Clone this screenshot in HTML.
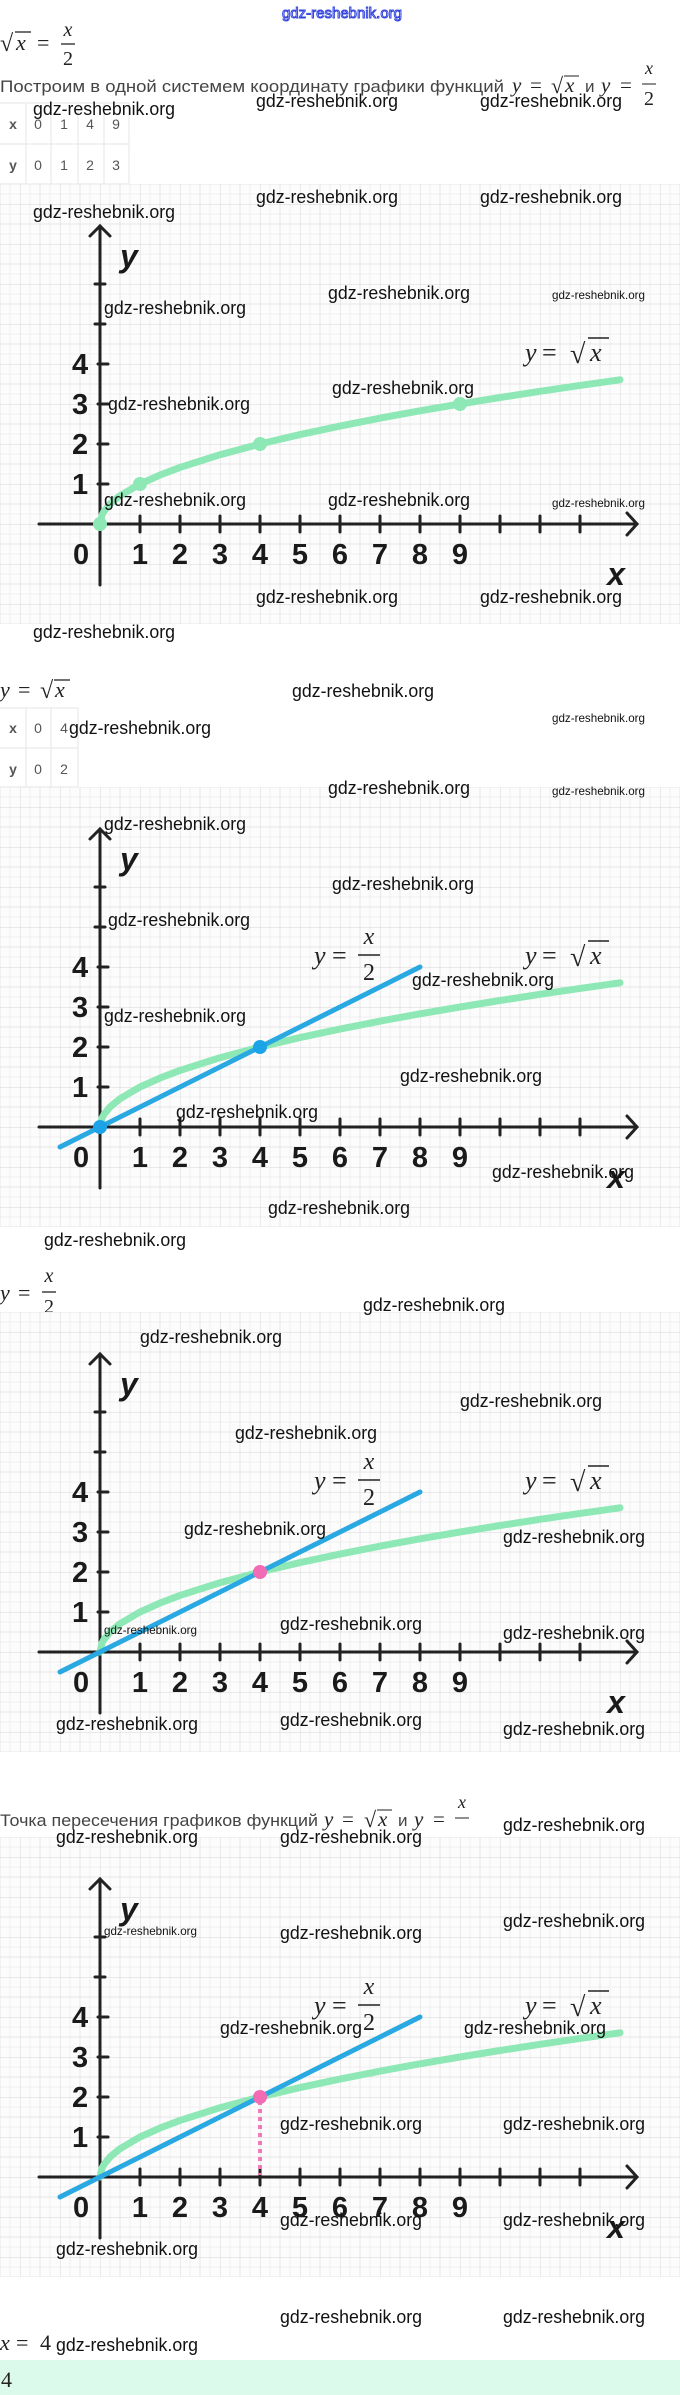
<!DOCTYPE html>
<html><head><meta charset="utf-8"><style>
html,body{margin:0;padding:0;background:#fff;}
svg{display:block}
.wm{font-family:"Liberation Sans",sans-serif;font-size:18px;fill:#111;}
.wms{font-family:"Liberation Sans",sans-serif;font-size:12px;fill:#111;}
.m{font-family:"Liberation Serif",serif;font-style:italic;fill:#222;}
.mr{font-family:"Liberation Serif",serif;fill:#222;}
.num{font-family:"Liberation Sans",sans-serif;font-weight:bold;font-size:29px;fill:#1a1a1a;}
.tx{font-family:"Liberation Sans","Noto Sans CJK SC",sans-serif;font-size:17px;fill:#444;}
.tb{font-family:"Liberation Sans",sans-serif;font-size:14px;fill:#555;}
</style></head><body>
<svg width="680" height="2395" viewBox="0 0 680 2395" xmlns="http://www.w3.org/2000/svg">
<defs>
<pattern id="grid" width="40" height="40" patternUnits="userSpaceOnUse">
<rect width="40" height="40" fill="#fcfcfc"/>
<path d="M10 0V40M30 0V40M0 10H40M0 30H40" stroke="#f0f0f0" stroke-width="1"/>
<path d="M20 0V40M0 20H40" stroke="#e6e6e6" stroke-width="1"/>
<path d="M0 0V40M0 0H40" stroke="#dedede" stroke-width="1.2"/>
</pattern>
<g id="axes">
<rect x="-100" y="-340" width="680" height="440" fill="url(#grid)"/>
<g stroke="#222" stroke-width="3" fill="none" stroke-linecap="round">
<line x1="-61" y1="0" x2="537" y2="0"/>
<polyline points="527,-11 537,0 527,11"/>
<line x1="0" y1="61" x2="0" y2="-298"/>
<polyline points="-10,-288 0,-298 10,-288"/>
<path d="M40 -8V8M80 -8V8M120 -8V8M160 -8V8M200 -8V8M240 -8V8M280 -8V8M320 -8V8M360 -8V8M400 -8V8M440 -8V8M480 -8V8M-2 -40H8M-2 -80H8M-2 -120H8M-2 -160H8M-5 -200H5M-5 -240H5"/>
</g>
<text class="num" x="-19" y="40" text-anchor="middle">0</text>
<text class="num" x="40" y="40" text-anchor="middle">1</text>
<text class="num" x="80" y="40" text-anchor="middle">2</text>
<text class="num" x="120" y="40" text-anchor="middle">3</text>
<text class="num" x="160" y="40" text-anchor="middle">4</text>
<text class="num" x="200" y="40" text-anchor="middle">5</text>
<text class="num" x="240" y="40" text-anchor="middle">6</text>
<text class="num" x="280" y="40" text-anchor="middle">7</text>
<text class="num" x="320" y="40" text-anchor="middle">8</text>
<text class="num" x="360" y="40" text-anchor="middle">9</text>
<text class="num" x="-20" y="-30" text-anchor="middle">1</text>
<text class="num" x="-20" y="-70" text-anchor="middle">2</text>
<text class="num" x="-20" y="-110" text-anchor="middle">3</text>
<text class="num" x="-20" y="-150" text-anchor="middle">4</text>
<text x="20" y="-257" font-family="Liberation Sans,sans-serif" font-size="32" font-weight="bold" font-style="italic" fill="#1a1a1a">y</text>
<text x="516" y="61" font-family="Liberation Sans,sans-serif" font-size="32" font-weight="bold" font-style="italic" fill="#1a1a1a" text-anchor="middle">x</text>
<text class="m" x="425" y="-163" font-size="26">y</text>
<text class="mr" x="442" y="-163" font-size="26">=</text>
<text class="mr" x="470" y="-161" font-size="28">√</text>
<text class="m" x="490" y="-163" font-size="26">x</text>
<line x1="488" y1="-186" x2="509" y2="-186" stroke="#222" stroke-width="1.5"/>
</g>
<path id="sq" d="M0 0L2 -8.94L4 -12.65L10 -20L20 -28.28L40 -40L60 -48.99L80 -56.57L120 -69.28L160 -80L200 -89.44L240 -97.98L280 -105.83L320 -113.14L360 -120L400 -126.49L440 -132.66L480 -138.56L520 -144.22" fill="none" stroke="#8ee8b5" stroke-width="7" stroke-linecap="round" stroke-linejoin="round"/>
<g id="lin">
<line x1="-40" y1="20" x2="320" y2="-160" stroke="#2aa8e2" stroke-width="5" stroke-linecap="round"/>
<text class="m" x="214" y="-163" font-size="26">y</text>
<text class="mr" x="232" y="-163" font-size="26">=</text>
<text class="m" x="269" y="-183" font-size="24" text-anchor="middle">x</text>
<line x1="258" y1="-172" x2="280" y2="-172" stroke="#222" stroke-width="1.5"/>
<text class="mr" x="269" y="-147" font-size="24" text-anchor="middle">2</text>
</g>
</defs>

<!-- top -->
<text x="342" y="18" text-anchor="middle" font-family="Liberation Sans,sans-serif" font-size="15" fill="#fff" stroke="#3344dd" stroke-width="1">gdz-reshebnik.org</text>
<text class="mr" x="0" y="51" font-size="24">√</text>
<text class="m" x="16" y="50" font-size="22">x</text>
<line x1="15" y1="32" x2="31" y2="32" stroke="#222" stroke-width="1.3"/>
<text class="mr" x="37" y="50" font-size="22">=</text>
<text class="m" x="68" y="36" font-size="20" text-anchor="middle">x</text>
<line x1="61" y1="44" x2="75" y2="44" stroke="#222" stroke-width="1.3"/>
<text class="mr" x="68" y="65" font-size="20" text-anchor="middle">2</text>

<text class="tx" x="0" y="92" textLength="504" lengthAdjust="spacingAndGlyphs">Построим в одной системем координату графики функций</text>
<text class="m" x="512" y="92" font-size="21">y</text>
<text class="mr" x="530" y="92" font-size="21">=</text>
<text class="mr" x="551" y="93" font-size="22">√</text>
<text class="m" x="565" y="92" font-size="21">x</text>
<line x1="564" y1="76" x2="579" y2="76" stroke="#444" stroke-width="1.2"/>
<text class="tx" x="585" y="92">и</text>
<text class="m" x="601" y="92" font-size="21">y</text>
<text class="mr" x="620" y="92" font-size="21">=</text>
<text class="m" x="649" y="74" font-size="18" text-anchor="middle">x</text>
<line x1="642" y1="84" x2="656" y2="84" stroke="#444" stroke-width="1.2"/>
<text class="mr" x="649" y="105" font-size="20" text-anchor="middle">2</text>

<!-- table1 -->
<g stroke="#e6e6e6" stroke-width="1" fill="none">
<path d="M0 103H129M0 144H129M0 184H129M26 103V184M51 103V184M78 103V184M104 103V184M129 103V184"/>
</g>
<text class="tb" x="13" y="129" text-anchor="middle" font-weight="bold" fill="#333">x</text>
<text class="tb" x="38" y="129" text-anchor="middle">0</text>
<text class="tb" x="64" y="129" text-anchor="middle">1</text>
<text class="tb" x="90" y="129" text-anchor="middle">4</text>
<text class="tb" x="116" y="129" text-anchor="middle">9</text>
<text class="tb" x="13" y="170" text-anchor="middle" font-weight="bold" fill="#333">y</text>
<text class="tb" x="38" y="170" text-anchor="middle">0</text>
<text class="tb" x="64" y="170" text-anchor="middle">1</text>
<text class="tb" x="90" y="170" text-anchor="middle">2</text>
<text class="tb" x="116" y="170" text-anchor="middle">3</text>

<!-- chart1 -->
<g transform="translate(100,524)">
<use href="#axes"/>
<use href="#sq"/>
<g fill="#8ee8b5"><circle cx="0" cy="0" r="7"/><circle cx="40" cy="-40" r="7"/><circle cx="160" cy="-80" r="7"/><circle cx="360" cy="-120" r="7"/></g>
</g>

<!-- section 2 -->
<text class="m" x="0" y="697" font-size="22">y</text>
<text class="mr" x="18" y="697" font-size="22">=</text>
<text class="mr" x="40" y="698" font-size="24">√</text>
<text class="m" x="55" y="697" font-size="22">x</text>
<line x1="54" y1="680" x2="70" y2="680" stroke="#222" stroke-width="1.3"/>
<g stroke="#e6e6e6" stroke-width="1" fill="none">
<path d="M0 708H78M0 748H78M0 787H78M26 708V787M51 708V787M78 708V787"/>
</g>
<text class="tb" x="13" y="733" text-anchor="middle" font-weight="bold" fill="#333">x</text>
<text class="tb" x="38" y="733" text-anchor="middle">0</text>
<text class="tb" x="64" y="733" text-anchor="middle">4</text>
<text class="tb" x="13" y="774" text-anchor="middle" font-weight="bold" fill="#333">y</text>
<text class="tb" x="38" y="774" text-anchor="middle">0</text>
<text class="tb" x="64" y="774" text-anchor="middle">2</text>

<g transform="translate(100,1127)">
<use href="#axes"/>
<use href="#sq"/>
<use href="#lin"/>
<g fill="#1ba3e8"><circle cx="0" cy="0" r="7"/><circle cx="160" cy="-80" r="7"/></g>
</g>

<!-- section 3 -->
<text class="m" x="0" y="1300" font-size="22">y</text>
<text class="mr" x="18" y="1300" font-size="22">=</text>
<text class="m" x="49" y="1282" font-size="20" text-anchor="middle">x</text>
<line x1="42" y1="1292" x2="56" y2="1292" stroke="#222" stroke-width="1.3"/>
<text class="mr" x="49" y="1313" font-size="20" text-anchor="middle">2</text>

<g transform="translate(100,1652)">
<use href="#axes"/>
<use href="#sq"/>
<use href="#lin"/>
<circle cx="160" cy="-80" r="7" fill="#f26bb5"/>
</g>

<!-- section 4 -->
<text class="tx" x="0" y="1826" textLength="318" lengthAdjust="spacingAndGlyphs">Точка пересечения графиков функций</text>
<text class="m" x="324" y="1826" font-size="21">y</text>
<text class="mr" x="342" y="1826" font-size="21">=</text>
<text class="mr" x="364" y="1827" font-size="22">√</text>
<text class="m" x="378" y="1826" font-size="21">x</text>
<line x1="377" y1="1810" x2="392" y2="1810" stroke="#444" stroke-width="1.2"/>
<text class="tx" x="398" y="1826">и</text>
<text class="m" x="414" y="1826" font-size="21">y</text>
<text class="mr" x="433" y="1826" font-size="21">=</text>
<text class="m" x="462" y="1808" font-size="18" text-anchor="middle">x</text>
<line x1="455" y1="1818" x2="469" y2="1818" stroke="#444" stroke-width="1.2"/>

<g transform="translate(100,2177)">
<use href="#axes"/>
<use href="#sq"/>
<use href="#lin"/>
<line x1="160" y1="-76" x2="160" y2="-2" stroke="#f07ab8" stroke-width="4" stroke-dasharray="4 4"/>
<circle cx="160" cy="-80" r="7" fill="#f26bb5"/>
</g>

<text class="m" x="0" y="2350" font-size="22">x</text>
<text class="mr" x="16" y="2350" font-size="22">=</text>
<text class="mr" x="40" y="2350" font-size="22">4</text>
<rect x="0" y="2360" width="680" height="35" fill="#dcfaec"/>
<text class="mr" x="1" y="2387" font-size="22">4</text>

<!-- watermarks -->
<g class="wm" textLength="142">
<text class="wm" x="33" y="115" textLength="142" lengthAdjust="spacingAndGlyphs">gdz-reshebnik.org</text>
<text class="wm" x="256" y="107" textLength="142" lengthAdjust="spacingAndGlyphs">gdz-reshebnik.org</text>
<text class="wm" x="480" y="107" textLength="142" lengthAdjust="spacingAndGlyphs">gdz-reshebnik.org</text>
<text class="wm" x="256" y="203" textLength="142" lengthAdjust="spacingAndGlyphs">gdz-reshebnik.org</text>
<text class="wm" x="480" y="203" textLength="142" lengthAdjust="spacingAndGlyphs">gdz-reshebnik.org</text>
<text class="wm" x="33" y="218" textLength="142" lengthAdjust="spacingAndGlyphs">gdz-reshebnik.org</text>
<text class="wm" x="328" y="299" textLength="142" lengthAdjust="spacingAndGlyphs">gdz-reshebnik.org</text>
<text class="wms" x="552" y="299" textLength="93" lengthAdjust="spacingAndGlyphs">gdz-reshebnik.org</text>
<text class="wm" x="104" y="314" textLength="142" lengthAdjust="spacingAndGlyphs">gdz-reshebnik.org</text>
<text class="wm" x="332" y="394" textLength="142" lengthAdjust="spacingAndGlyphs">gdz-reshebnik.org</text>
<text class="wm" x="108" y="410" textLength="142" lengthAdjust="spacingAndGlyphs">gdz-reshebnik.org</text>
<text class="wm" x="104" y="506" textLength="142" lengthAdjust="spacingAndGlyphs">gdz-reshebnik.org</text>
<text class="wm" x="328" y="506" textLength="142" lengthAdjust="spacingAndGlyphs">gdz-reshebnik.org</text>
<text class="wms" x="552" y="507" textLength="93" lengthAdjust="spacingAndGlyphs">gdz-reshebnik.org</text>
<text class="wm" x="256" y="603" textLength="142" lengthAdjust="spacingAndGlyphs">gdz-reshebnik.org</text>
<text class="wm" x="480" y="603" textLength="142" lengthAdjust="spacingAndGlyphs">gdz-reshebnik.org</text>
<text class="wm" x="33" y="638" textLength="142" lengthAdjust="spacingAndGlyphs">gdz-reshebnik.org</text>

<text class="wm" x="292" y="697" textLength="142" lengthAdjust="spacingAndGlyphs">gdz-reshebnik.org</text>
<text class="wms" x="552" y="722" textLength="93" lengthAdjust="spacingAndGlyphs">gdz-reshebnik.org</text>
<text class="wm" x="69" y="734" textLength="142" lengthAdjust="spacingAndGlyphs">gdz-reshebnik.org</text>
<text class="wm" x="328" y="794" textLength="142" lengthAdjust="spacingAndGlyphs">gdz-reshebnik.org</text>
<text class="wms" x="552" y="795" textLength="93" lengthAdjust="spacingAndGlyphs">gdz-reshebnik.org</text>
<text class="wm" x="104" y="830" textLength="142" lengthAdjust="spacingAndGlyphs">gdz-reshebnik.org</text>
<text class="wm" x="332" y="890" textLength="142" lengthAdjust="spacingAndGlyphs">gdz-reshebnik.org</text>
<text class="wm" x="108" y="926" textLength="142" lengthAdjust="spacingAndGlyphs">gdz-reshebnik.org</text>
<text class="wm" x="412" y="986" textLength="142" lengthAdjust="spacingAndGlyphs">gdz-reshebnik.org</text>
<text class="wm" x="104" y="1022" textLength="142" lengthAdjust="spacingAndGlyphs">gdz-reshebnik.org</text>
<text class="wm" x="400" y="1082" textLength="142" lengthAdjust="spacingAndGlyphs">gdz-reshebnik.org</text>
<text class="wm" x="176" y="1118" textLength="142" lengthAdjust="spacingAndGlyphs">gdz-reshebnik.org</text>
<text class="wm" x="492" y="1178" textLength="142" lengthAdjust="spacingAndGlyphs">gdz-reshebnik.org</text>
<text class="wm" x="268" y="1214" textLength="142" lengthAdjust="spacingAndGlyphs">gdz-reshebnik.org</text>
<text class="wm" x="44" y="1246" textLength="142" lengthAdjust="spacingAndGlyphs">gdz-reshebnik.org</text>

<text class="wm" x="363" y="1311" textLength="142" lengthAdjust="spacingAndGlyphs">gdz-reshebnik.org</text>
<text class="wm" x="140" y="1343" textLength="142" lengthAdjust="spacingAndGlyphs">gdz-reshebnik.org</text>
<text class="wm" x="460" y="1407" textLength="142" lengthAdjust="spacingAndGlyphs">gdz-reshebnik.org</text>
<text class="wm" x="235" y="1439" textLength="142" lengthAdjust="spacingAndGlyphs">gdz-reshebnik.org</text>
<text class="wm" x="184" y="1535" textLength="142" lengthAdjust="spacingAndGlyphs">gdz-reshebnik.org</text>
<text class="wm" x="503" y="1543" textLength="142" lengthAdjust="spacingAndGlyphs">gdz-reshebnik.org</text>
<text class="wms" x="104" y="1634" textLength="93" lengthAdjust="spacingAndGlyphs">gdz-reshebnik.org</text>
<text class="wm" x="280" y="1630" textLength="142" lengthAdjust="spacingAndGlyphs">gdz-reshebnik.org</text>
<text class="wm" x="503" y="1639" textLength="142" lengthAdjust="spacingAndGlyphs">gdz-reshebnik.org</text>
<text class="wm" x="56" y="1730" textLength="142" lengthAdjust="spacingAndGlyphs">gdz-reshebnik.org</text>
<text class="wm" x="280" y="1726" textLength="142" lengthAdjust="spacingAndGlyphs">gdz-reshebnik.org</text>
<text class="wm" x="503" y="1735" textLength="142" lengthAdjust="spacingAndGlyphs">gdz-reshebnik.org</text>

<text class="wm" x="503" y="1831" textLength="142" lengthAdjust="spacingAndGlyphs">gdz-reshebnik.org</text>
<text class="wm" x="56" y="1843" textLength="142" lengthAdjust="spacingAndGlyphs">gdz-reshebnik.org</text>
<text class="wm" x="280" y="1843" textLength="142" lengthAdjust="spacingAndGlyphs">gdz-reshebnik.org</text>
<text class="wm" x="503" y="1927" textLength="142" lengthAdjust="spacingAndGlyphs">gdz-reshebnik.org</text>
<text class="wms" x="104" y="1935" textLength="93" lengthAdjust="spacingAndGlyphs">gdz-reshebnik.org</text>
<text class="wm" x="280" y="1939" textLength="142" lengthAdjust="spacingAndGlyphs">gdz-reshebnik.org</text>
<text class="wm" x="220" y="2034" textLength="142" lengthAdjust="spacingAndGlyphs">gdz-reshebnik.org</text>
<text class="wm" x="464" y="2034" textLength="142" lengthAdjust="spacingAndGlyphs">gdz-reshebnik.org</text>
<text class="wm" x="280" y="2130" textLength="142" lengthAdjust="spacingAndGlyphs">gdz-reshebnik.org</text>
<text class="wm" x="503" y="2130" textLength="142" lengthAdjust="spacingAndGlyphs">gdz-reshebnik.org</text>
<text class="wm" x="280" y="2226" textLength="142" lengthAdjust="spacingAndGlyphs">gdz-reshebnik.org</text>
<text class="wm" x="503" y="2226" textLength="142" lengthAdjust="spacingAndGlyphs">gdz-reshebnik.org</text>
<text class="wm" x="56" y="2255" textLength="142" lengthAdjust="spacingAndGlyphs">gdz-reshebnik.org</text>
<text class="wm" x="280" y="2323" textLength="142" lengthAdjust="spacingAndGlyphs">gdz-reshebnik.org</text>
<text class="wm" x="503" y="2323" textLength="142" lengthAdjust="spacingAndGlyphs">gdz-reshebnik.org</text>
<text class="wm" x="56" y="2351" textLength="142" lengthAdjust="spacingAndGlyphs">gdz-reshebnik.org</text>
</g>
</svg>
</body></html>
